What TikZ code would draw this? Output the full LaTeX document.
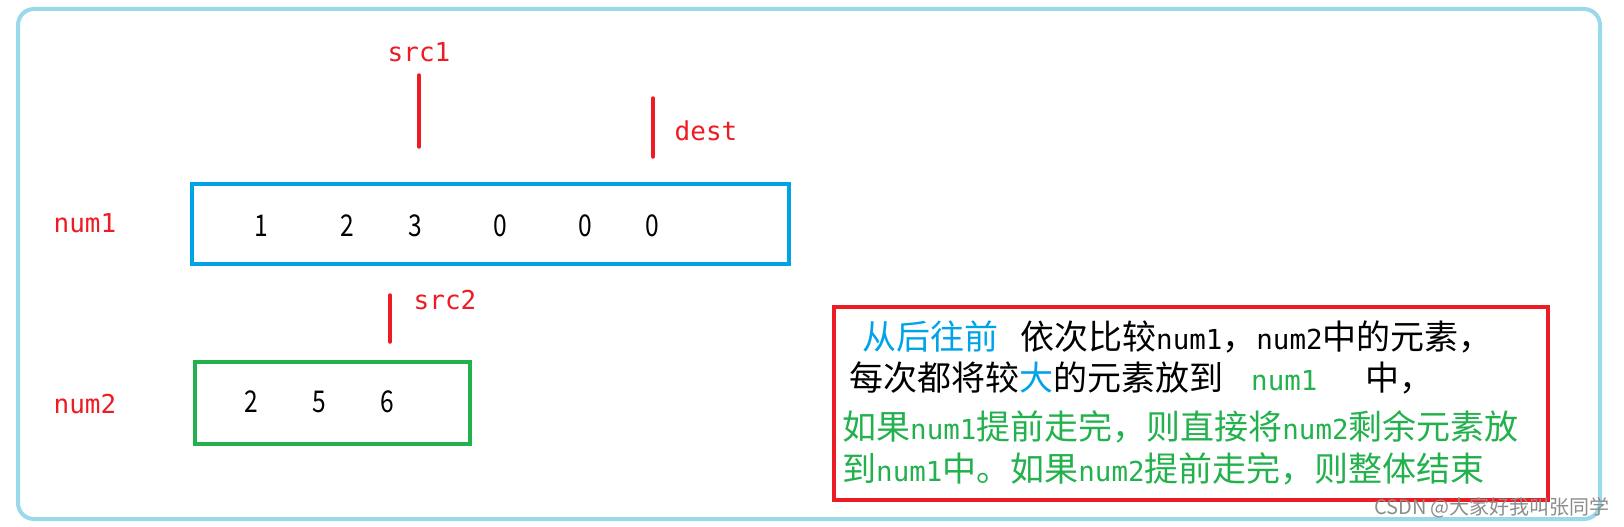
\documentclass[tikz,border=0pt]{standalone}
\usepackage{fontspec}
\setmainfont{Noto Sans CJK SC}
\newfontfamily\cjk{Noto Sans CJK SC}
\newfontfamily\lat[FakeStretch=0.82]{Noto Sans CJK SC}
\newfontfamily\mono{DejaVu Sans Mono}
\newcommand{\tn}[1]{{\mono\fontsize{27.5}{27.5}\selectfont #1}}
\definecolor{frameblue}{HTML}{99D9EA}
\definecolor{boxblue}{HTML}{00A2E8}
\definecolor{boxgreen}{HTML}{22B14C}
\definecolor{boxred}{HTML}{ED1C24}
\tikzset{
  lbl/.style={inner sep=0pt, text=boxred, font=\mono\fontsize{26}{26}\selectfont},
  num/.style={inner sep=0pt, font=\lat\fontsize{30}{30}\selectfont},
  ptr/.style={draw=boxred, line width=3.5pt, line cap=round},
  txt/.style={inner sep=0pt, anchor=base west, font=\cjk\fontsize{34}{34}\selectfont},
}
\begin{document}
\begin{tikzpicture}[x=1pt,y=-1pt]
\useasboundingbox (0,0) rectangle (1624,527);
% outer frame
\draw[frameblue, line width=4pt, rounded corners=16pt] (18,9) rectangle (1600,519);
% pointers
\node[lbl] (src1) at (419,52) {src1};
\coordinate (s1top) at (419,75);
\coordinate (s1bot) at (419,147);
\draw[ptr] (s1top) -- (s1bot);
\coordinate (dtop) at (653,98);
\coordinate (dbot) at (653,157);
\draw[ptr] (dtop) -- (dbot);
\node[lbl] (dest) at (706,131) {dest};
% num1
\node[lbl] (lnum1) at (85,223) {num1};
\node[draw=boxblue, line width=4pt, minimum width=597pt, minimum height=80pt, inner sep=0pt] (box1) at (490.5,224) {};
\node[num] (a1) at (261,226) {1};
\node[num] (a2) at (347,226) {2};
\node[num] (a3) at (415,226) {3};
\node[num] (a4) at (500,226) {0};
\node[num] (a5) at (585,226) {0};
\node[num] (a6) at (652,226) {0};
% src2
\coordinate (s2top) at (390,295);
\coordinate (s2bot) at (390,342);
\draw[ptr] (s2top) -- (s2bot);
\node[lbl] (src2) at (445,300) {src2};
% num2
\node[lbl] (lnum2) at (85,404) {num2};
\node[draw=boxgreen, line width=4pt, minimum width=275pt, minimum height=82pt, inner sep=0pt] (box2) at (332.5,403) {};
\node[num] (b1) at (251,402) {2};
\node[num] (b2) at (319,402) {5};
\node[num] (b3) at (387,402) {6};
% explanation box
\node[draw=boxred, line width=4pt, minimum width=714pt, minimum height=193pt, inner sep=0pt] (note) at (1191,403.5) {};
\node[txt, text=boxblue] (l1a) at (862,349.5) {从后往前};
\node[txt] (l1b) at (1020,349.5) {依次比较\tn{num1}，\tn{num2}中的元素，};
\node[txt] (l2a) at (849,390.5) {每次都将较{\color{boxblue}大}的元素放到};
\node[txt, text=boxgreen] (l2b) at (1251,390.5) {\tn{num1}};
\node[txt] (l2c) at (1365,390.5) {中，};
\node[txt, text=boxgreen] (l3) at (842,439.5) {如果\tn{num1}提前走完，则直接将\tn{num2}剩余元素放};
\node[txt, text=boxgreen] (l4) at (842,481.5) {到\tn{num1}中。如果\tn{num2}提前走完，则整体结束};
% watermark
\node[inner sep=0pt, text=black!45, font=\cjk\fontsize{20}{20}\selectfont] (wm) at (1492,508) {CSDN @大家好我叫张同学};
\end{tikzpicture}
\end{document}
